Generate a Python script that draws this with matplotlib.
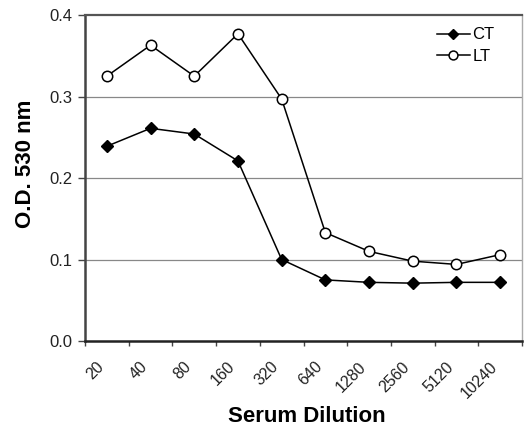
import matplotlib
matplotlib.use('Agg')
from matplotlib import pyplot as plt

plt.rcParams['font.family'] = ['Liberation Sans', 'DejaVu Sans']

dilutions = ['20', '40', '80', '160', '320', '640', '1280', '2560', '5120', '10240']
ct = [0.239, 0.261, 0.254, 0.221, 0.100, 0.075, 0.072, 0.071, 0.072, 0.072]
lt = [0.325, 0.363, 0.325, 0.377, 0.297, 0.133, 0.110, 0.098, 0.094, 0.106]

fig = plt.figure(figsize=(5.26, 4.32), dpi=100)
ax = fig.add_axes([0.1616, 0.2106, 0.8308, 0.7546])

x = list(range(len(dilutions)))
ax.plot(x, ct, '-D', color='black', lw=1.1, ms=6.2, mfc='black', mec='black', label='CT')
ax.plot(x, lt, '-o', color='black', lw=1.1, ms=7.5, mfc='white', mec='black', mew=1.1, label='LT')

ax.set_xlim(-0.5, len(dilutions) - 0.5)
ax.set_ylim(0, 0.4)
ax.set_yticks([0.0, 0.1, 0.2, 0.3, 0.4])
ax.set_yticklabels(['0.0', '0.1', '0.2', '0.3', '0.4'], fontsize=12, color='#222222')

# ticks sit on category boundaries; rotated labels hang just left of each centre
ax.set_xticks([i - 0.5 for i in range(len(dilutions) + 1)])
ax.set_xticklabels([])
ax.set_xticks([i - 0.24 for i in x], minor=True)
ax.set_xticklabels(dilutions, minor=True, rotation=45, ha='right',
                   rotation_mode='anchor', fontsize=11.5, color='#222222')
ax.tick_params(axis='x', which='minor', length=0, pad=13)
ax.tick_params(axis='x', which='major', length=3.5, width=1, color='#444444')
ax.tick_params(axis='y', length=5, width=1, color='#444444', pad=4)

for yv in [0.1, 0.2, 0.3]:
    ax.axhline(yv, color='#888888', lw=0.9, zorder=0)

ax.spines['left'].set_color('#444444')
ax.spines['left'].set_linewidth(1.8)
ax.spines['bottom'].set_color('#222222')
ax.spines['bottom'].set_linewidth(1.8)
ax.spines['top'].set_color('#555555')
ax.spines['top'].set_linewidth(1.6)
ax.spines['right'].set_color('#aaaaaa')
ax.spines['right'].set_linewidth(1.0)

ax.set_ylabel('O.D. 530 nm', fontsize=16, fontweight='bold')
ax.yaxis.set_label_coords(-0.112, 0.543)
ax.set_xlabel('Serum Dilution', fontsize=16, fontweight='bold')
ax.xaxis.set_label_coords(0.507, -0.199)

ax.legend(loc='upper left', bbox_to_anchor=(0.805, 0.962), frameon=False,
          fontsize=12, handlelength=2.0, handletextpad=0.15, labelspacing=0.4,
          borderaxespad=0, borderpad=0, markerscale=0.85)

fig.savefig('out.png', dpi=100)
